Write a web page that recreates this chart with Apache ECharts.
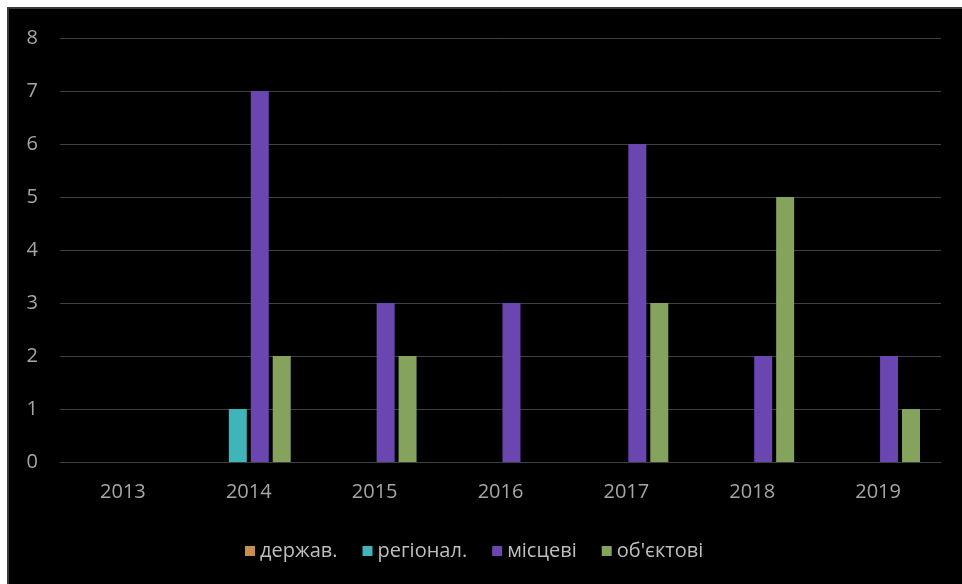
<!DOCTYPE html>
<html>
<head>
<meta charset="utf-8">
<script src="https://cdn.jsdelivr.net/npm/echarts@6/dist/echarts.min.js"></script>
<style>
  html, body { margin: 0; padding: 0; background: #ffffff; width: 962px; height: 584px; overflow: hidden; }
  #frame { position: absolute; left: 7px; top: 7px; width: 955px; height: 577px; background: #3a3a3a; }
  #chart { position: absolute; left: 9px; top: 9px; width: 953px; height: 575px; background: #000000; }
</style>
</head>
<body>
<div id="frame"></div>
<div id="chart"></div>
<script>
// Years on the category axis
const years = ['2013', '2014', '2015', '2016', '2017', '2018', '2019'];

// Counts per level
const derzhav = [0, 0, 0, 0, 0, 0, 0];
const rehional = [0, 1, 0, 0, 0, 0, 0];
const mistsevi = [0, 7, 3, 3, 6, 2, 2];
const obiektovi = [0, 2, 2, 0, 3, 5, 1];

const seriesNames = ['держав.', 'регіонал.', 'місцеві', "об'єктові"];
const seriesColors = ['#c98f4c', '#3fb4b9', '#6a47b0', '#86a35e'];
const seriesData = [derzhav, rehional, mistsevi, obiektovi];

const chart = echarts.init(document.getElementById('chart'));
const fontFamily = '"Open Sans", "Noto Sans", sans-serif';

chart.setOption({
  backgroundColor: '#000000',
  animation: false,
  color: seriesColors,
  textStyle: { fontFamily: fontFamily },
  grid: { left: 51, right: 21, top: 29, bottom: 122 },
  legend: {
    top: 527,
    left: 231,
    itemWidth: 10,
    itemHeight: 10,
    itemGap: 25,
    icon: 'rect',
    textStyle: { color: '#bfbfbf', fontSize: 20, fontFamily: fontFamily },
    data: seriesNames
  },
  xAxis: {
    type: 'category',
    data: years,
    axisLine: { show: true, lineStyle: { color: '#404040', width: 1 } },
    axisTick: { show: false },
    axisLabel: { color: '#a6a6a6', fontSize: 20, margin: 20, fontFamily: fontFamily }
  },
  yAxis: {
    type: 'value',
    min: 0,
    max: 8,
    interval: 1,
    axisLine: { show: false },
    axisTick: { show: false },
    splitLine: { lineStyle: { color: '#404040', width: 1 } },
    axisLabel: { color: '#a6a6a6', fontSize: 20, margin: 22, fontFamily: fontFamily }
  },
  series: seriesData.map((d, i) => ({
    name: seriesNames[i],
    type: 'bar',
    data: d,
    barWidth: 18,
    barGap: '22%',
    itemStyle: { color: seriesColors[i] }
  }))
});
</script>
</body>
</html>
